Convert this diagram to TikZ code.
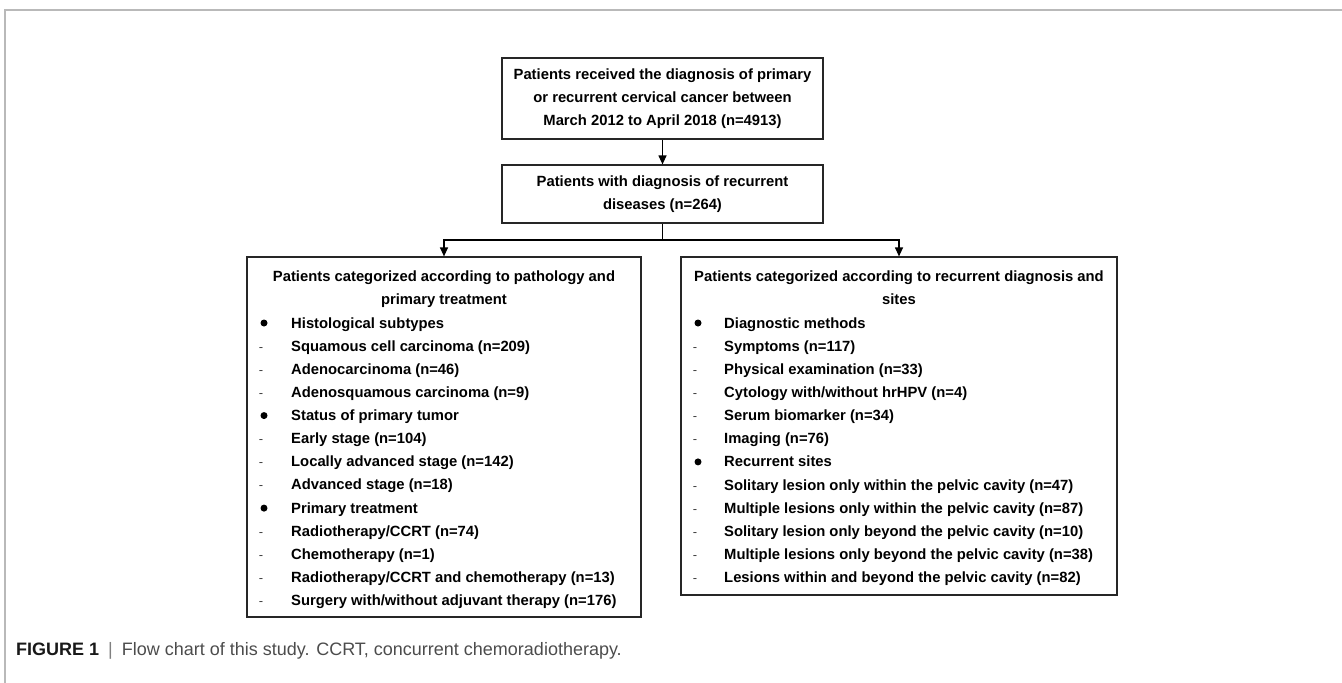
\documentclass[tikz,border=0pt]{standalone}
\usepackage{fontspec}
\setmainfont{Liberation Sans}
\usetikzlibrary{arrows.meta}
\begin{document}
\begin{tikzpicture}[x=1pt,y=-1pt,
  box/.style={draw=black!85,line width=1.2pt,inner sep=0pt},
  bodyfont/.style={font=\fontsize{14.8}{23.2}\selectfont\bfseries},
  txt/.style={bodyfont,inner sep=0pt,anchor=base west},
  ttl/.style={bodyfont,inner sep=0pt,anchor=base},
  dot/.style={circle,fill=black,inner sep=0pt,minimum size=7pt},
  dsh/.style={font=\fontsize{13}{13}\selectfont,text=black!75,inner sep=0pt,anchor=base},
  arr/.style={line width=1.2pt,-{Triangle[width=8pt,length=9pt]}},
  conn/.style={line width=1.2pt}]
\useasboundingbox (0,0) rectangle (1342,683);
\draw[gray!55,line width=1.5pt] (5,683) -- (5,10) -- (1342,10);

\node[box,bodyfont,align=center,minimum width=321pt,minimum height=81pt] (top) at (662.5,98.5)
  {Patients received the diagnosis of primary\\or recurrent cervical cancer between\\March 2012 to April 2018 (n=4913)};
\node[box,bodyfont,align=center,minimum width=321pt,minimum height=58pt] (rec) at (662.5,194)
  {Patients with diagnosis of recurrent\\diseases (n=264)};

\node[box,minimum width=394pt,minimum height=360pt] (L) at (444,437) {};
\node[box,minimum width=436pt,minimum height=338pt] (R) at (899,426) {};

\node[ttl] (Lt1) at (444,281) {Patients categorized according to pathology and};
\node[ttl] (Lt2) at (444,304.2) {primary treatment};
\node[ttl] (Rt1) at (899,281) {Patients categorized according to recurrent diagnosis and};
\node[ttl] (Rt2) at (899,304.2) {sites};

\foreach \k/\t [count=\i] in {
  b/{Histological subtypes},
  d/{Squamous cell carcinoma (n=209)},
  d/{Adenocarcinoma (n=46)},
  d/{Adenosquamous carcinoma (n=9)},
  b/{Status of primary tumor},
  d/{Early stage (n=104)},
  d/{Locally advanced stage (n=142)},
  d/{Advanced stage (n=18)},
  b/{Primary treatment},
  d/{Radiotherapy/CCRT (n=74)},
  d/{Chemotherapy (n=1)},
  d/{Radiotherapy/CCRT and chemotherapy (n=13)},
  d/{Surgery with/without adjuvant therapy (n=176)}}{
  \pgfmathsetmacro\yy{323+23.14*(\i-1)}
  \node[txt] (L\i) at (291,\yy+5) {\t};
  \if\k b
    \node[dot] (Lm\i) at (264,\yy) {};
  \else
    \node[dsh] (Lm\i) at (261,\yy+5) {-};
  \fi
}

\foreach \k/\t [count=\i] in {
  b/{Diagnostic methods},
  d/{Symptoms (n=117)},
  d/{Physical examination (n=33)},
  d/{Cytology with/without hrHPV (n=4)},
  d/{Serum biomarker (n=34)},
  d/{Imaging (n=76)},
  b/{Recurrent sites},
  d/{Solitary lesion only within the pelvic cavity (n=47)},
  d/{Multiple lesions only within the pelvic cavity (n=87)},
  d/{Solitary lesion only beyond the pelvic cavity (n=10)},
  d/{Multiple lesions only beyond the pelvic cavity (n=38)},
  d/{Lesions within and beyond the pelvic cavity (n=82)}}{
  \pgfmathsetmacro\yy{323+23.15*(\i-1)}
  \node[txt] (R\i) at (724,\yy+5) {\t};
  \if\k b
    \node[dot] (Rm\i) at (698,\yy) {};
  \else
    \node[dsh] (Rm\i) at (695,\yy+5) {-};
  \fi
}

\draw[arr] (top) -- (rec);
\coordinate (split) at (662.5,240);
\draw[conn] (rec.south) -- (split);
\draw[arr] (split) -| (L.north);
\draw[arr] (split) -| (R.north);

\node[anchor=base west,inner sep=0pt,font=\fontsize{18}{18}\selectfont] (cap) at (16,655)
  {{\color{black!90}\bfseries FIGURE 1}\enspace{\color{gray}|}\enspace{\color{black!70}Flow chart of this study. CCRT, concurrent chemoradiotherapy.}};
\end{tikzpicture}
\end{document}
